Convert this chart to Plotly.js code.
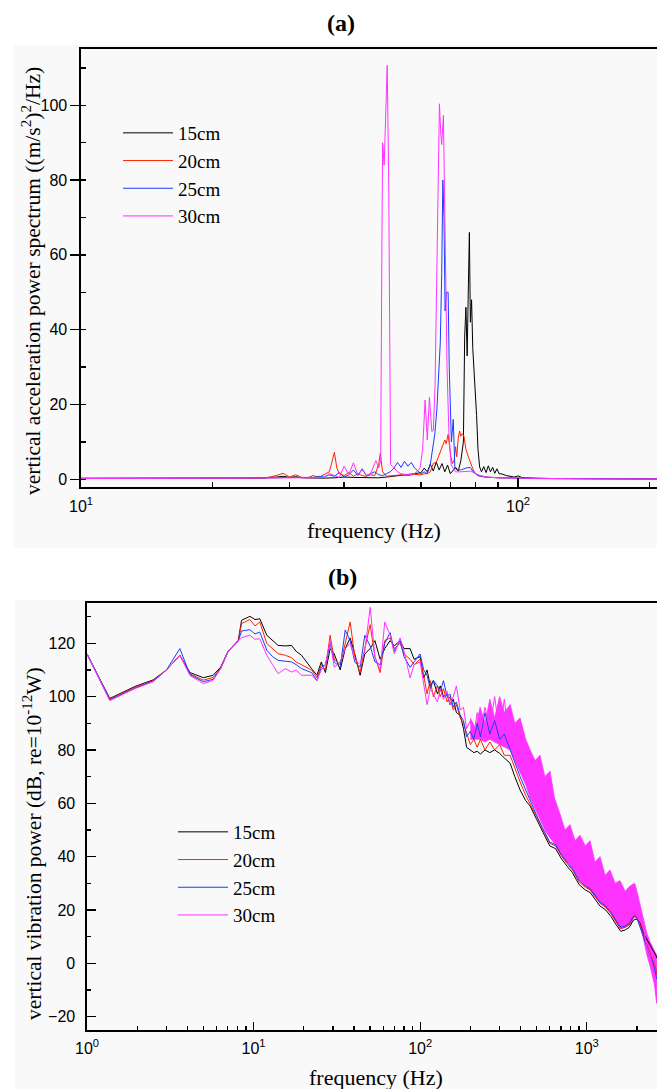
<!DOCTYPE html>
<html><head><meta charset="utf-8">
<script src="https://cdn.plot.ly/plotly-3.0.1.min.js"></script>
<style>html,body{margin:0;padding:0;background:#fff}#chart{width:657px;height:1089px}</style>
</head><body><div id="chart"></div>
<script>
// ---------- series names / colours ----------
const seriesNames = ['15cm','20cm','25cm','30cm'];
const seriesColors = ['#000000','#ff2200','#1a3cff','#ff33ff'];

// ---------- panel (a): acceleration power spectrum ----------
const a15F = [10,12,14,16,18,20,22,24,26,28,29,30,31,32,34,36,38,40,42,44,46,48,50,52,54,56,58,60,61,62,63,64,65,66,67,68,69,70,71,72,73,74,75,75.5,76,76.5,77,77.4,77.8,78.3,78.8,79.3,79.8,80.4,81,81.7,82.5,83.5,84.5,85.5,86.5,87.5,88.5,89.5,90.5,92,94,96,98,100,102,104,106,110,120,140,160,180,210];
const a15V = [0.3,0.3,0.3,0.3,0.2,0.2,0.3,0.4,0.3,0.6,0.8,0.5,0.7,0.4,0.3,0.3,0.4,0.6,0.5,0.4,0.5,0.4,0.6,0.8,1.0,1.2,1.5,1.8,3.0,2.0,4.0,2.2,4.6,2.5,4.2,2.0,3.8,1.5,2.5,3.2,2.2,5,10,38,46,33,52,66,42,48,35,30,22,17,8,3.3,2.0,3.4,1.8,3.6,2.0,3.2,1.6,2.8,1.5,1.4,1.0,0.8,0.6,0.9,0.5,0.4,0.3,0.3,0.2,0.2,0.1,0.1,0.1];

const a20F = [10,12,14,16,18,20,22,24,26,27,28,29,30,31,32,33,34,35,36,37,37.5,38,38.5,39,40,41,42,43,44,45,46,47,47.5,48,48.4,49,50,51,52,54,56,58,60,61,62,63,64,65,66,67,68,68.5,69.2,69.7,70.2,70.8,71.4,72,72.4,73,73.5,74,74.5,75.2,76,77,78,79,80,81,82,84,86,88,90,95,100,110,120,140,160,210];
const a20V = [0.2,0.2,0.3,0.2,0.2,0.3,0.2,0.3,0.3,0.6,1.0,1.6,0.6,1.2,0.5,0.4,1.0,0.5,1.2,2.0,4.5,7.2,3.0,1.5,1.0,1.8,0.8,1.5,1.0,0.8,1.2,1.0,2.5,4.0,6.9,2.0,0.8,0.8,1.0,1.2,1.0,1.3,1.2,1.5,1.5,2.0,4.3,4.5,6.5,8.5,10.5,9.5,12.0,9.0,6.0,4.2,5.0,8.7,6.0,11,12.9,11.5,12.2,11.6,8.0,6.0,4.0,2.5,1.5,1.0,0.8,0.6,0.5,0.5,0.4,0.4,0.3,0.2,0.2,0.2,0.1,0.1];

const a25F = [10,12,14,16,18,20,22,24,26,28,30,32,34,35,36,37,38,39,40,41,42,43,44,45,46,47,48,49,50,51,52,53,54,55,56,57,58,59,60,61,62,63,63.9,64.5,65.2,65.8,66.4,66.9,67.3,67.7,68.1,68.6,69.2,69.6,69.9,70.4,71.1,71.7,72.5,74,76,77.7,79,81,84,90,100,110,140,210];
const a25V = [0.2,0.2,0.2,0.2,0.2,0.2,0.2,0.3,0.3,0.4,0.5,0.4,0.5,0.8,0.6,1.2,0.8,1.8,0.6,1.2,2.5,1.0,2.8,1.0,1.5,2.0,1.2,1.0,1.5,2.0,3.0,4.5,3.2,4.8,3.5,4.5,3.0,2.2,1.5,2.0,1.5,4.0,8.7,12,18.6,28,36.5,55,80,70,45,50,50,30,18.6,10,16,3,2.5,2.5,3,3.2,2,1,0.6,0.4,0.3,0.2,0.15,0.1];

const a30F = [10,12,14,16,18,20,22,24,26,28,30,32,34,36,37,38,39,40,41,42,43,44,45,46,47.3,48,48.5,48.8,49.0,49.4,50.2,50.6,51.1,51.6,52,53,54,56,58,59.7,60.5,61.3,62,62.7,63.5,64,64.6,65.2,65.7,66.1,66.6,66.9,67.5,68.2,68.8,69.5,70.3,71,72,74,76,78,80,82,85,90,100,120,150,210];
const a30V = [0.2,0.2,0.2,0.2,0.2,0.2,0.2,0.2,0.3,0.3,0.3,0.4,0.4,0.5,1.5,1.0,0.5,3.5,1.2,4.4,1.2,2.5,1.0,1.5,5.0,3.0,5.0,60,90,84,110.7,80,4.0,3.5,3.0,2.0,1.5,1.2,1.5,3.0,8,21.2,10.5,21.9,12.8,13,25,55,85,100.4,92,89.5,97.3,55,30,12,4,3,2,2,2.2,2.2,1.5,1.0,0.6,0.4,0.3,0.2,0.1,0.1];

// ---------- panel (b): vibration power (dB) ----------
const bLowF = [1,1.37,1.94,2.5,3.0,3.61,4.15,5.0,5.72,6.35,7.04,8.09,8.47,9.5,10.2,10.9,12.0,13.0,14.05,15.5,16.9,18.0,19.4];
const b15Low = [116,99.3,103.8,106.3,110,115.5,109,107.1,108,111.1,117.1,121.1,128.6,130.1,128.9,129.2,123,121,119.2,119,119.2,117,115.5];
const b20Low = [116,99,103.5,106,110,115.5,108.5,106.2,107.2,110.8,117,121,127.4,128.9,126.5,128,119.9,118,116.1,115.5,114.6,113,112];
const b25Low = [116,98.7,103.2,105.8,110,118,108.2,105.6,106.5,110.6,117,120.8,124.6,125.1,123.5,124.2,117.4,115,113.6,113.3,113,112,110.5];
const b30Low = [116,98.5,103,105.6,110,115.5,107.9,104.9,106.1,110.5,117,120.7,122.1,123,121.5,121.7,115.5,112,108.6,110.5,109.2,110,108];

const bMidF = [22.3,24,25.5,27,28.8,30.5,33.1,35.5,38,40.5,43.6,46.5,50.1,53.5,57.5,61.3,66,70,75.8,80,87,92,99.9];
const b15Mid = [110.5,108,113,109,118,116,110,118,122,116,108,116,118,121,114,118,121,119,121,118,118,114,115];
const b20Mid = [110,107,112,110,123,114,112,120,128,115,109,118,127,115,109,121,122,118,120,116,114,112,114];
const b25Mid = [109,106,111,112,120,113,111,125,121,113,111,123,119,113,112,120,124,117,121,115,111,113,116];
const b30Mid = [108,106,110,112,121,111,113,118,120,114,112,117,133.5,115,110,128,123,116,122,117,107,112,113];

const bHighF = [105,110,115,120,127,132,138,145,151,158,165,174,182,190,200,210,220,230,245,262,280,300,320,347,370,398,430,457];
const b15High = [107,110,104,106,101,104,100,101,97,99,94,93,88,81,80,79,79.5,78.5,80,79,80,78.7,77,75,70,65,61,59];
const b20High = [108,101,106,100,104,100,103,98,100,95,97,92,90,86,82,84,81,84,80,83,80,82,78,78,73,68,63,60];
const b25High = [110,108,103,106,104,102,106,100,101,96,98,93,91,85,87,84,90,85,94,86,91,84,86,80,76,70,65,61];
const b30High = [104,97,103,101,98,103,99,102,97,100,104,95,96,88,91,86,94,87,96,88,100,86,99,82,90,76,80,66];

const bTailF = [500,540,600,650,700,760,820,900,980,1050,1120,1200,1300,1400,1500,1600,1700,1800,1900,1950,2000,2100,2200,2300,2400,2500,2600,2630];
const b15Tail = [54,49.5,44,43,39.5,36.5,34,29.5,27.5,26.5,24,21.5,20,17.5,14.5,12,12.5,13.5,16,16.5,16.5,15,11,9,7,5,3,2];
const b20Tail = [55,50.5,45,44,40.5,37.5,35,30.5,28.5,27.5,25,22.5,21,18.5,15.5,13,13.5,14.5,17,17.5,17,14,10,7,4,1,-2,-4];
const b25Tail = [55.5,51,45.5,44.5,41,38,35.5,31,29,28,25.5,23,21.5,19,16,13.5,14,15,17.5,18,17,13,9,6,3,0,-4,-6];
const b30Tail = [62,54,64,50,47,44,43,40,37,38,33,30,26,25,20,21,22,24,26,25,19,16,12,6,3,-2,-9,-14];

// dense-oscillation envelope of the 30cm curve (upper / lower edge)
const bandF  = [200,215,229,245,262,280,300,320,347,370,398,430,457,490,524,560,602,640,691,740,794,850,911,980,1046,1120,1201,1290,1379,1480,1584,1700,1818,1940,2000,2087,2177,2300,2400,2550,2630];
const bandHi = [92,88,96,90,99,92,100,94,97,90,92,84,80,76,78,70,72,62,56,50,52,46,48,44,46,38,40,33,35,30,31,27,29,30,27,22,18,11,8,5,3];
const bandLo = [84,84,84,83,84,83,82,81,80,76,72,67,62,58,54,50,47,45,42,39,37,34,31,29,27.5,25,23,21,19.5,16,13,13.5,14.5,17.5,17,15,10,3,-1,-8,-15];

// ---------- tick labels ----------
const aXTickVals = [10,100];
const aXTickText = ['10<sup>1</sup>','10<sup>2</sup>'];
const aXMinorVals = [20,30,40,50,60,70,80,90,200];
const bXTickVals = [1,10,100,1000];
const bXTickText = ['10<sup>0</sup>','10<sup>1</sup>','10<sup>2</sup>','10<sup>3</sup>'];
const bXMinorVals = [2,3,4,5,6,7,8,9,20,30,40,50,60,70,80,90,200,300,400,500,600,700,800,900,2000];

// ---------- build traces ----------
const W = 657, H = 1089;
const px = v => v / W;
const py = v => 1 - v / H;

const aF = [a15F,a20F,a25F,a30F];
const aV = [a15V,a20V,a25V,a30V];
const bParts = [
  [b15Low,b15Mid,b15High,b15Tail],
  [b20Low,b20Mid,b20High,b20Tail],
  [b25Low,b25Mid,b25High,b25Tail],
  [b30Low,b30Mid,b30High,b30Tail]
];
const bF = bLowF.concat(bMidF, bHighF, bTailF);

const traces = [];
for (let i = 0; i < 4; i++) {
  traces.push({
    type:'scatter', mode:'lines', x:aF[i], y:aV[i], name:seriesNames[i],
    xaxis:'x', yaxis:'y', legend:'legend',
    line:{color:seriesColors[i], width:1}
  });
}
// band for 30cm drawn below the lines
traces.push({
  type:'scatter', mode:'lines', x:bandF.concat(bandF.slice().reverse()),
  y:bandHi.concat(bandLo.slice().reverse()), fill:'toself',
  fillcolor:seriesColors[3], line:{color:seriesColors[3], width:0.8},
  xaxis:'x2', yaxis:'y2', showlegend:false, hoverinfo:'skip'
});
for (let i = 0; i < 4; i++) {
  traces.push({
    type:'scatter', mode:'lines', x:bF, y:[].concat(...bParts[i]), name:seriesNames[i],
    xaxis:'x2', yaxis:'y2', legend:'legend2',
    line:{color:seriesColors[i], width:1}
  });
}
// empty trace so the inside-tick overlay axis of panel (b) is drawn
traces.push({type:'scatter', mode:'lines', x:[], y:[], xaxis:'x2', yaxis:'y3', showlegend:false, hoverinfo:'skip'});

const tickFont = {family:'Liberation Sans, Arial, sans-serif', size:16, color:'#000'};
const serif = 'Liberation Serif, Times New Roman, serif';
const axBase = {showline:true, linecolor:'#000', linewidth:1.6, tickcolor:'#000', tickwidth:1.3,
  showgrid:false, zeroline:false, tickfont:tickFont};
const bYRange = [-25.0, 135.1];

const layout = {
  width:W, height:H, margin:{l:0,r:0,t:0,b:0,autoexpand:false},
  paper_bgcolor:'#ffffff', plot_bgcolor:'rgba(0,0,0,0)',
  xaxis: Object.assign({}, axBase, {type:'log', domain:[px(81),1], range:[1, 1+(657-81)/437], anchor:'y',
    mirror:true, ticks:'inside', ticklen:9, tickmode:'array', tickvals:aXTickVals, ticktext:aXTickText,
    ticklabelstandoff:4,
    minor:{tickmode:'array', tickvals:aXMinorVals, ticks:'inside', ticklen:5, tickwidth:1.3, tickcolor:'#000', showgrid:false}}),
  yaxis: Object.assign({}, axBase, {domain:[py(487), py(49)], range:[-2.06, 115.05], anchor:'x',
    ticks:'outside', ticklen:9, tick0:0, dtick:20,
    minor:{dtick:10, tick0:0, ticks:'inside', ticklen:5, tickwidth:1.3, tickcolor:'#000', showgrid:false}}),
  xaxis2: Object.assign({}, axBase, {type:'log', domain:[px(87),1], range:[0, (657-86.7)/166.67], anchor:'y2',
    mirror:true, ticks:'inside', ticklen:8, tickmode:'array', tickvals:bXTickVals, ticktext:bXTickText,
    ticklabelstandoff:3,
    minor:{tickmode:'array', tickvals:bXMinorVals, ticks:'inside', ticklen:4, tickwidth:1.3, tickcolor:'#000', showgrid:false}}),
  // labelled axis: transparent outside ticks only to space the labels; minor ticks inside
  yaxis2: Object.assign({}, axBase, {domain:[py(1030), py(603)], range:bYRange, anchor:'x2',
    ticks:'outside', ticklen:7, tickcolor:'rgba(0,0,0,0)', tick0:0, dtick:20,
    minor:{dtick:10, tick0:0, ticks:'inside', ticklen:4, tickwidth:1.3, tickcolor:'#000', showgrid:false}}),
  // overlay axis carrying the long inside major ticks
  yaxis3: {overlaying:'y2', anchor:'x2', range:bYRange, showline:false, showgrid:false, zeroline:false,
    ticks:'inside', ticklen:9, tickwidth:1.3, tickcolor:'#000', tick0:0, dtick:20, showticklabels:false},
  legend:{x:px(118), y:py(114), xanchor:'left', yanchor:'top', bgcolor:'rgba(0,0,0,0)',
    font:{family:serif, size:19, color:'#000'}, itemwidth:50, tracegroupgap:0},
  legend2:{x:px(173), y:py(813), xanchor:'left', yanchor:'top', bgcolor:'rgba(0,0,0,0)',
    font:{family:serif, size:19, color:'#000'}, itemwidth:50, tracegroupgap:0},
  shapes:[
    {type:'rect', xref:'paper', yref:'paper', x0:px(14), x1:1, y0:py(548), y1:py(45), fillcolor:'#f9f9f9', line:{width:0}, layer:'below'},
    {type:'rect', xref:'paper', yref:'paper', x0:px(15), x1:1, y0:0, y1:py(600), fillcolor:'#f9f9f9', line:{width:0}, layer:'below'}
  ],
  annotations:[
    {text:'<b>(a)</b>', xref:'paper', yref:'paper', x:px(341), y:py(23), showarrow:false, xanchor:'center', yanchor:'middle', font:{family:serif, size:24, color:'#000'}},
    {text:'<b>(b)</b>', xref:'paper', yref:'paper', x:px(342), y:py(577), showarrow:false, xanchor:'center', yanchor:'middle', font:{family:serif, size:24, color:'#000'}},
    {text:'frequency (Hz)', xref:'paper', yref:'paper', x:px(374), y:py(530), showarrow:false, xanchor:'center', yanchor:'middle', font:{family:serif, size:22, color:'#000'}},
    {text:'frequency (Hz)', xref:'paper', yref:'paper', x:px(376), y:py(1077), showarrow:false, xanchor:'center', yanchor:'middle', font:{family:serif, size:22, color:'#000'}},
    {text:'vertical acceleration power spectrum ((m/s<sup>2</sup>)<sup>2</sup>/Hz)', xref:'paper', yref:'paper', x:px(31), y:py(281), textangle:-90, showarrow:false, xanchor:'center', yanchor:'middle', font:{family:serif, size:21.5, color:'#000'}},
    {text:'vertical vibration power (dB, re=10<sup>-12</sup>W)', xref:'paper', yref:'paper', x:px(32), y:py(844), textangle:-90, showarrow:false, xanchor:'center', yanchor:'middle', font:{family:serif, size:21.5, color:'#000'}}
  ]
};

Plotly.newPlot('chart', traces, layout, {staticPlot:true, displayModeBar:false});
</script>
</body></html>
